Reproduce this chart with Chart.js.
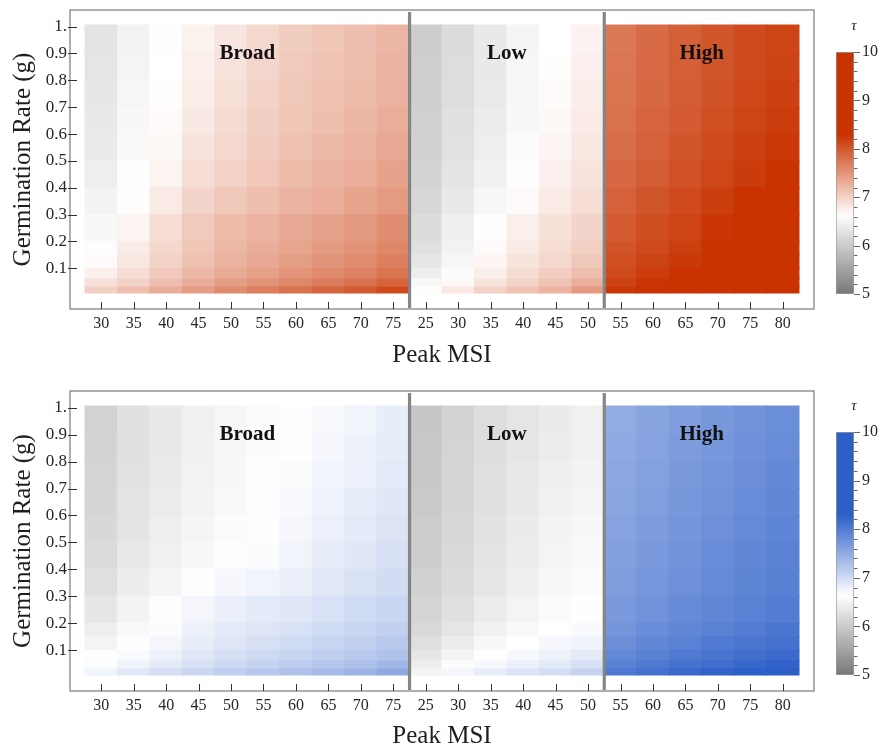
<!DOCTYPE html>
<html>
<head>
<meta charset="utf-8">
<script src="https://cdn.jsdelivr.net/npm/chart.js@4/dist/chart.umd.min.js"></script>
<style>
  html, body { margin: 0; padding: 0; background: #fff; width: 883px; height: 748px; overflow: hidden; }
  canvas { position: absolute; }
</style>
</head>
<body>
<canvas id="mapTop" width="883" height="374" style="left:0;top:0"></canvas>
<canvas id="barTop" width="63" height="374" style="left:820px;top:0"></canvas>
<canvas id="mapBottom" width="883" height="378" style="left:0;top:374px"></canvas>
<canvas id="barBottom" width="63" height="374" style="left:820px;top:374px"></canvas>
<script>
// Peak MSI columns, grouped into the three scenarios
const msiLabels = ['30','35','40','45','50','55','60','65','70','75',
                   '25','30','35','40','45','50',
                   '55','60','65','70','75','80'];
const panelNames = ['Broad', 'Low', 'High'];
const panelSizes = [10, 6, 6];

// germination-rate bands (edges), bottom to top
const gEdges = [0.008, 0.03, 0.06, 0.1, 0.15, 0.2, 0.3, 0.4, 0.5, 0.6, 0.7, 0.8, 0.9, 1.006];

const yTickValues = [0.1, 0.2, 0.3, 0.4, 0.5, 0.6, 0.7, 0.8, 0.9, 1.0];
const yTickLabels = ['0.1', '0.2', '0.3', '0.4', '0.5', '0.6', '0.7', '0.8', '0.9', '1.'];
const tauTicks = [5, 6, 7, 8, 9, 10];

// tau for each column (one list per column, bands bottom to top) - upper map
const tauUpper = [
  [7.01, 6.88, 6.76, 6.66, 6.60, 6.55, 6.49, 6.42, 6.38, 6.36, 6.34, 6.32, 6.31],
  [7.15, 7.00, 6.90, 6.82, 6.78, 6.72, 6.65, 6.60, 6.56, 6.54, 6.52, 6.50, 6.49],
  [7.29, 7.15, 7.06, 6.99, 6.95, 6.90, 6.80, 6.72, 6.68, 6.66, 6.64, 6.63, 6.62],
  [7.44, 7.30, 7.20, 7.14, 7.10, 7.06, 6.98, 6.90, 6.85, 6.81, 6.78, 6.76, 6.74],
  [7.57, 7.42, 7.32, 7.26, 7.22, 7.18, 7.08, 7.00, 6.96, 6.92, 6.89, 6.86, 6.84],
  [7.69, 7.52, 7.41, 7.34, 7.29, 7.25, 7.16, 7.09, 7.05, 7.02, 6.99, 6.97, 6.95],
  [7.78, 7.61, 7.50, 7.42, 7.37, 7.33, 7.24, 7.18, 7.14, 7.10, 7.08, 7.06, 7.04],
  [7.88, 7.70, 7.58, 7.50, 7.44, 7.39, 7.30, 7.24, 7.20, 7.16, 7.14, 7.12, 7.10],
  [7.98, 7.79, 7.66, 7.57, 7.51, 7.46, 7.37, 7.30, 7.26, 7.22, 7.19, 7.17, 7.15],
  [8.11, 7.90, 7.76, 7.67, 7.61, 7.56, 7.45, 7.38, 7.33, 7.29, 7.26, 7.24, 7.23],
  [6.65, 6.55, 6.42, 6.33, 6.27, 6.21, 6.15, 6.10, 6.08, 6.06, 6.05, 6.04, 6.03],
  [6.82, 6.68, 6.58, 6.52, 6.48, 6.44, 6.37, 6.31, 6.27, 6.25, 6.23, 6.22, 6.21],
  [6.99, 6.85, 6.76, 6.70, 6.66, 6.62, 6.53, 6.46, 6.42, 6.40, 6.38, 6.37, 6.37],
  [7.13, 7.00, 6.91, 6.85, 6.80, 6.76, 6.67, 6.61, 6.58, 6.55, 6.53, 6.52, 6.51],
  [7.25, 7.12, 7.03, 6.96, 6.91, 6.87, 6.80, 6.75, 6.71, 6.68, 6.66, 6.64, 6.63],
  [7.46, 7.28, 7.16, 7.08, 7.02, 6.98, 6.90, 6.85, 6.82, 6.79, 6.77, 6.75, 6.73],
  [8.26, 8.18, 8.12, 8.07, 8.03, 7.98, 7.92, 7.86, 7.82, 7.79, 7.77, 7.75, 7.73],
  [8.34, 8.28, 8.22, 8.17, 8.12, 8.08, 8.02, 7.96, 7.92, 7.89, 7.87, 7.85, 7.84],
  [8.42, 8.36, 8.30, 8.25, 8.20, 8.16, 8.10, 8.05, 8.01, 7.98, 7.96, 7.94, 7.93],
  [8.50, 8.44, 8.38, 8.34, 8.31, 8.28, 8.20, 8.14, 8.10, 8.07, 8.04, 8.02, 8.01],
  [8.58, 8.52, 8.46, 8.42, 8.39, 8.36, 8.30, 8.23, 8.19, 8.16, 8.13, 8.11, 8.10],
  [8.66, 8.60, 8.54, 8.50, 8.46, 8.43, 8.37, 8.30, 8.26, 8.22, 8.19, 8.17, 8.16]
];

// tau for each column - lower map
const tauLower = [
  [6.75, 6.66, 6.60, 6.50, 6.42, 6.33, 6.26, 6.20, 6.16, 6.13, 6.11, 6.10, 6.09],
  [6.88, 6.76, 6.68, 6.62, 6.56, 6.49, 6.41, 6.35, 6.31, 6.29, 6.27, 6.26, 6.25],
  [6.96, 6.86, 6.78, 6.72, 6.66, 6.60, 6.51, 6.45, 6.42, 6.40, 6.38, 6.37, 6.37],
  [7.05, 6.95, 6.88, 6.82, 6.77, 6.72, 6.62, 6.55, 6.51, 6.49, 6.47, 6.46, 6.45],
  [7.13, 7.03, 6.96, 6.90, 6.85, 6.80, 6.70, 6.62, 6.58, 6.56, 6.54, 6.53, 6.52],
  [7.21, 7.10, 7.02, 6.96, 6.90, 6.85, 6.74, 6.66, 6.62, 6.61, 6.60, 6.59, 6.59],
  [7.27, 7.16, 7.07, 7.00, 6.94, 6.88, 6.80, 6.74, 6.71, 6.68, 6.66, 6.64, 6.62],
  [7.34, 7.22, 7.13, 7.06, 7.00, 6.94, 6.87, 6.82, 6.79, 6.76, 6.73, 6.71, 6.69],
  [7.42, 7.29, 7.19, 7.12, 7.06, 7.00, 6.93, 6.88, 6.85, 6.82, 6.79, 6.77, 6.75],
  [7.53, 7.38, 7.27, 7.19, 7.12, 7.06, 6.99, 6.95, 6.92, 6.88, 6.85, 6.83, 6.81],
  [6.50, 6.42, 6.33, 6.24, 6.17, 6.12, 6.07, 6.03, 6.01, 5.99, 5.97, 5.96, 5.95],
  [6.72, 6.60, 6.50, 6.40, 6.32, 6.26, 6.20, 6.17, 6.15, 6.13, 6.12, 6.11, 6.10],
  [6.82, 6.70, 6.62, 6.54, 6.46, 6.40, 6.33, 6.30, 6.28, 6.26, 6.24, 6.23, 6.22],
  [6.92, 6.80, 6.70, 6.63, 6.56, 6.50, 6.44, 6.41, 6.39, 6.37, 6.35, 6.33, 6.32],
  [6.98, 6.86, 6.77, 6.70, 6.63, 6.58, 6.53, 6.50, 6.48, 6.45, 6.42, 6.40, 6.39],
  [7.08, 6.95, 6.85, 6.76, 6.68, 6.62, 6.58, 6.56, 6.54, 6.51, 6.48, 6.46, 6.45],
  [8.04, 7.95, 7.87, 7.80, 7.74, 7.69, 7.65, 7.62, 7.59, 7.56, 7.54, 7.52, 7.50],
  [8.12, 8.03, 7.95, 7.88, 7.82, 7.77, 7.72, 7.69, 7.66, 7.63, 7.61, 7.59, 7.57],
  [8.20, 8.10, 8.02, 7.95, 7.89, 7.84, 7.79, 7.76, 7.73, 7.70, 7.68, 7.66, 7.64],
  [8.26, 8.16, 8.08, 8.01, 7.95, 7.89, 7.85, 7.82, 7.79, 7.76, 7.74, 7.72, 7.70],
  [8.32, 8.22, 8.13, 8.06, 8.00, 7.94, 7.90, 7.88, 7.85, 7.82, 7.80, 7.78, 7.76],
  [8.38, 8.28, 8.19, 8.12, 8.06, 8.00, 7.96, 7.94, 7.91, 7.88, 7.86, 7.83, 7.81]
];

const RED = [200, 51, 0];
const BLUE = [45, 95, 200];
const SERIF = '"Liberation Serif", "Times New Roman", serif';
const TEXT = '#262626';

// diverging scale: gray (5) -> white (~6.63) -> full colour (>= 8.3)
function tauColor(v, full) {
  const whiteAt = 6.63, fullAt = 8.3, grayLow = 120;
  if (v <= whiteAt) {
    const t = Math.max(0, (v - 5) / (whiteAt - 5));
    const c = Math.round(grayLow + (255 - grayLow) * t);
    return `rgb(${c},${c},${c})`;
  }
  const t = Math.min(1, (v - whiteAt) / (fullAt - whiteAt));
  const [r, g, b] = full.map(ch => Math.round(255 + (ch - 255) * t));
  return `rgb(${r},${g},${b})`;
}

function line(ctx, x1, y1, x2, y2) {
  ctx.beginPath(); ctx.moveTo(x1, y1); ctx.lineTo(x2, y2); ctx.stroke();
}

// frame, inward ticks, scenario dividers and scenario names
const frameDecor = {
  id: 'frameDecor',
  afterDatasetsDraw(chart) {
    const { ctx, chartArea: a, scales: { x, y } } = chart;
    ctx.save();
    ctx.strokeStyle = '#858585';
    ctx.lineWidth = 3.2;
    let start = 0;
    panelSizes.slice(0, -1).forEach(n => {
      start += n;
      const px = x.getPixelForValue(start - 0.5);
      line(ctx, px, a.top + 2, px, a.bottom - 1);
    });
    ctx.strokeStyle = '#8e8e8e';
    ctx.lineWidth = 1.4;
    ctx.strokeRect(a.left, a.top, a.right - a.left, a.bottom - a.top);
    ctx.strokeStyle = '#333';
    ctx.lineWidth = 1;
    x.ticks.forEach((t, i) => {
      const px = Math.round(x.getPixelForTick(i)) + 0.5;
      line(ctx, px, a.bottom - 7, px, a.bottom);
    });
    y.ticks.forEach((t, i) => {
      const py = Math.round(y.getPixelForTick(i)) + 0.5;
      line(ctx, a.left - 2, py, a.left + 7, py);
    });
    ctx.font = 'bold 21px ' + SERIF;
    ctx.fillStyle = '#111';
    ctx.textAlign = 'center';
    ctx.textBaseline = 'middle';
    start = 0;
    panelNames.forEach((name, k) => {
      const cx = x.getPixelForValue(start + (panelSizes[k] - 1) / 2);
      ctx.fillText(name, cx, y.getPixelForValue(0.9));
      start += panelSizes[k];
    });
    ctx.restore();
  }
};

function makeMap(id, tau, full, padTop, axisHeight, titlePad) {
  const nBands = gEdges.length - 1;
  const datasets = [];
  for (let r = 0; r < nBands; r++) {
    datasets.push({
      data: tau.map((col, i) => ({ x: i, y: [gEdges[r], gEdges[r + 1]] })),
      backgroundColor: tau.map(col => tauColor(col[r], full)),
      borderWidth: 0,
      grouped: false,
      barPercentage: 1,
      categoryPercentage: 1,
      inflateAmount: 0.5
    });
  }
  return new Chart(document.getElementById(id), {
    type: 'bar',
    data: { datasets },
    options: {
      responsive: false,
      animation: false,
      layout: { padding: { top: padTop, right: 69, left: 0, bottom: 0 } },
      scales: {
        x: {
          type: 'linear',
          offset: false,
          min: -0.962,
          max: msiLabels.length - 1 + 0.962,
          afterBuildTicks: s => { s.ticks = msiLabels.map((_, i) => ({ value: i })); },
          afterFit: s => { s.height = axisHeight; s.paddingLeft = 0; s.paddingRight = 0; },
          ticks: {
            autoSkip: false, maxRotation: 0, padding: 5, color: TEXT,
            font: { family: SERIF, size: 16 },
            callback: (v, i) => msiLabels[i]
          },
          grid: { display: false, drawTicks: false, offset: false },
          border: { display: false },
          title: {
            display: true, text: 'Peak MSI', color: '#1e1e1e',
            font: { family: SERIF, size: 25 },
            padding: { top: 0, bottom: titlePad }
          }
        },
        y: {
          type: 'linear',
          min: -0.0516,
          max: 1.062,
          afterBuildTicks: s => { s.ticks = yTickValues.map(v => ({ value: v })); },
          afterFit: s => { s.width = 70; s.paddingTop = 0; s.paddingBottom = 0; },
          ticks: {
            padding: 3, color: TEXT,
            font: { family: SERIF, size: 17 },
            callback: (v, i) => yTickLabels[i]
          },
          grid: { display: false, drawTicks: false },
          border: { display: false },
          title: {
            display: true, text: 'Germination Rate (g)', color: '#1e1e1e',
            font: { family: SERIF, size: 25 },
            padding: { top: 8, bottom: 0 }
          }
        }
      },
      plugins: { legend: { display: false }, tooltip: { enabled: false } }
    },
    plugins: [frameDecor]
  });
}

// minor/major ticks to the right of the colour bar, and the tau caption
const barDecor = {
  id: 'barDecor',
  afterDraw(chart) {
    const { ctx, chartArea: a, scales: { y } } = chart;
    ctx.save();
    ctx.strokeStyle = '#666';
    ctx.lineWidth = 1;
    for (let k = 0; k <= 25; k++) {
      const v = tauTicks[0] + k * 0.2;
      const py = Math.round(y.getPixelForValue(v)) + 0.5;
      line(ctx, a.right, py, a.right + (k % 5 === 0 ? 6 : 3.5), py);
    }
    ctx.fillStyle = '#222';
    ctx.font = 'italic 15px ' + SERIF;
    ctx.textAlign = 'center';
    ctx.textBaseline = 'middle';
    ctx.fillText('τ', a.right, a.top - 26);
    ctx.restore();
  }
};

function makeColorbar(id, full, padTop, padBottom) {
  const lo = tauTicks[0], hi = tauTicks[tauTicks.length - 1];
  return new Chart(document.getElementById(id), {
    type: 'bar',
    data: {
      labels: ['τ'],
      datasets: [{
        data: [[lo, hi]],
        backgroundColor: (c) => {
          const ch = c.chart;
          if (!ch.chartArea) return tauColor(hi, full);
          const ys = ch.scales.y;
          const grad = ch.ctx.createLinearGradient(0, ys.getPixelForValue(lo), 0, ys.getPixelForValue(hi));
          for (let k = 0; k <= 50; k++) {
            grad.addColorStop(k / 50, tauColor(lo + (hi - lo) * k / 50, full));
          }
          return grad;
        },
        borderColor: '#9a9a9a',
        borderWidth: 1,
        borderSkipped: false,
        barPercentage: 1,
        categoryPercentage: 1
      }]
    },
    options: {
      responsive: false,
      animation: false,
      layout: { padding: { top: padTop, bottom: padBottom, left: 16, right: 0 } },
      scales: {
        x: { display: false },
        y: {
          position: 'right',
          min: lo, max: hi,
          afterBuildTicks: s => { s.ticks = tauTicks.map(v => ({ value: v })); },
          afterFit: s => { s.width = 29; s.paddingTop = 0; s.paddingBottom = 0; },
          ticks: { padding: 8, color: TEXT, font: { family: SERIF, size: 16 } },
          grid: { display: false, drawTicks: false },
          border: { display: false }
        }
      },
      plugins: { legend: { display: false }, tooltip: { enabled: false } }
    },
    plugins: [barDecor]
  });
}

makeMap('mapTop', tauUpper, RED, 10, 65, 4);
makeMap('mapBottom', tauLower, BLUE, 17, 61, 1);
makeColorbar('barTop', RED, 52, 80);
makeColorbar('barBottom', BLUE, 58, 73);
</script>
</body>
</html>
